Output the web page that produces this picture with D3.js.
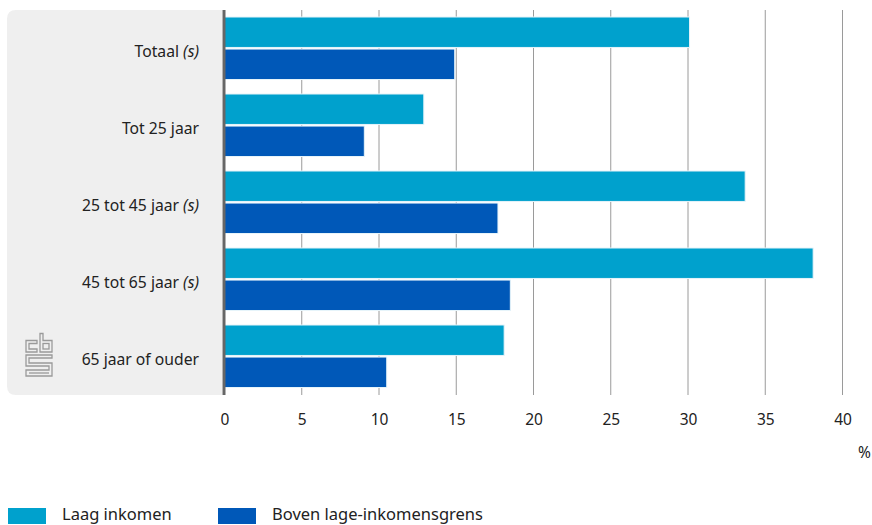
<!DOCTYPE html>
<html><head><meta charset="utf-8">
<script src="https://cdn.jsdelivr.net/npm/d3@7"></script>
<style>
body{margin:0;background:#fff;}
svg text{font-family:"Noto Sans","Open Sans",sans-serif;fill:#222;}
</style></head>
<body><svg id="c" width="872" height="525"></svg>
<script>
const categories = ["Totaal", "Tot 25 jaar", "25 tot 45 jaar", "45 tot 65 jaar", "65 jaar of ouder"];
const suffix = [" (s)", "", " (s)", " (s)", ""];
const laagInkomen = [30.1, 12.9, 33.7, 38.1, 18.1];
const bovenGrens = [14.9, 9.05, 17.7, 18.5, 10.5];
const seriesNames = ["Laag inkomen", "Boven lage-inkomensgrens"];
const colors = ["#00a1cd", "#0058b8"];
const ticks = [0, 5, 10, 15, 20, 25, 30, 35, 40];

const svg = d3.select("#c");
const x = d3.scaleLinear().domain([0, 40]).range([224.5, 842.5]);
const y = d3.scaleBand().domain(categories).range([10, 395]).paddingInner(0).paddingOuter(0);
const inner = d3.scaleBand().domain([0, 1]).range([7, 77 - 7.5]).paddingInner(0.05);

// panel
svg.append("path").attr("fill", "#efefef")
  .attr("d", "M222,10 L16,10 Q7,10 7,19 L7,386 Q7,395 16,395 L222,395 Z");

// gridlines
svg.append("g").selectAll("line").data(ticks.slice(1)).join("line")
  .attr("x1", d => x(d)).attr("x2", d => x(d)).attr("y1", 10).attr("y2", 395)
  .attr("stroke", "#9a9a9a").attr("stroke-width", 1);

// bars
const series = [laagInkomen, bovenGrens];
series.forEach((vals, si) => {
  svg.append("g").selectAll("rect").data(categories).join("rect")
    .attr("x", x(0))
    .attr("y", d => y(d) + inner(si))
    .attr("width", (d, i) => x(vals[i]) - x(0))
    .attr("height", inner.bandwidth())
    .attr("fill", colors[si])
    .attr("stroke", "#e6f4fa").attr("stroke-width", 1);
});

// axis line
svg.append("line").attr("x1", 224).attr("x2", 224).attr("y1", 10).attr("y2", 395)
  .attr("stroke", "#666").attr("stroke-width", 3);

// tick labels
const xAxis = d3.axisBottom(x).tickValues(ticks).tickSize(0).tickPadding(0);
const ax = svg.append("g").attr("transform", "translate(0,425)").call(xAxis);
ax.select(".domain").remove();
ax.selectAll("text").attr("font-size", 15.5).attr("dy", 0).attr("fill", "#222")
  .style("font-family", '"Noto Sans","Open Sans",sans-serif');

svg.append("text").attr("x", 871).attr("y", 458).attr("text-anchor", "end")
  .attr("font-size", 15.5).text("%");

// category labels
const lab = svg.append("g").selectAll("text").data(categories).join("text")
  .attr("x", 199).attr("y", d => y(d) + 77 / 2 + 8)
  .attr("text-anchor", "end").attr("font-size", 15.7);
lab.append("tspan").text(d => d);
lab.append("tspan").attr("font-style", "italic").text((d, i) => suffix[i]);

// logo (cbs)
const logo = svg.append("g").attr("transform", "translate(25,333)")
  .attr("fill", "none").attr("stroke", "#9a9a9a").attr("stroke-width", 1.3);
// c
logo.append("path").attr("d", "M12,7.5 H1 V19 H12 V16 H4 V10.5 H12 Z");
// b
logo.append("path").attr("d", "M15,0.5 H18 V7.5 H27 V19 H15 Z");
logo.append("rect").attr("x", 18).attr("y", 10.5).attr("width", 6).attr("height", 5.5);
// s (maze)
logo.append("path").attr("d", "M27,22 H1 V33 H24 V37 H1 V43 H27 V30 H4 V25 H27 Z");
logo.append("path").attr("d", "M4,40 H24");

// legend
const leg = svg.append("g");
const legX = [8, 218];
seriesNames.forEach((n, i) => {
  leg.append("rect").attr("x", legX[i]).attr("y", 508).attr("width", 38).attr("height", 16).attr("fill", colors[i]);
  leg.append("text").attr("x", legX[i] + 54).attr("y", 520).attr("font-size", 16.5).text(n);
});
</script></body></html>
